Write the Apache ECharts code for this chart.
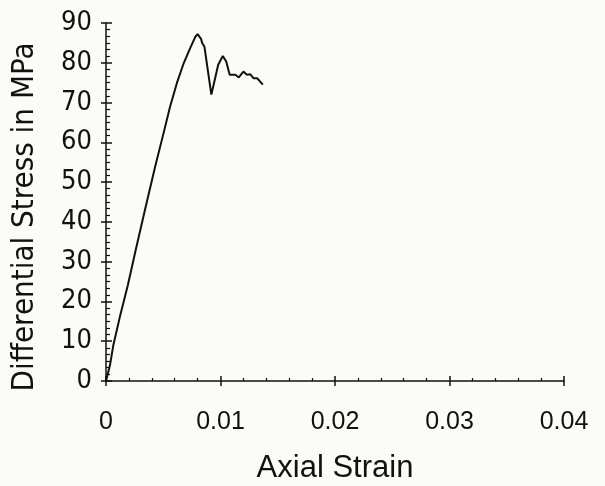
<!DOCTYPE html>
<html><head><meta charset="utf-8">
<script src="https://cdn.jsdelivr.net/npm/echarts@6/dist/echarts.min.js"></script>
<style>html,body{margin:0;padding:0;background:#fbfbf9}#c{width:605px;height:486px}</style>
</head><body><div id="c"></div>
<script>
const strain = [0, 0.00035, 0.00064, 0.0012, 0.0019, 0.0026, 0.0034, 0.0043, 0.0050, 0.0056, 0.0062, 0.0068, 0.0074, 0.0078, 0.0080, 0.0083, 0.0084, 0.0086, 0.0092, 0.0094, 0.0098, 0.0102, 0.0105, 0.0108, 0.0113, 0.0116, 0.0118, 0.0120, 0.0123, 0.0126, 0.0129, 0.0132, 0.0137];
const stress = [0, 4, 9, 16, 24, 33, 43, 54, 62, 69, 75, 80, 84, 86.5, 87.2, 86, 85, 84, 72, 74.5, 79.5, 81.7, 80.3, 77, 77, 76.3, 77.1, 77.8, 77, 77.1, 76.1, 76.1, 74.5];
const xTicks = [0, 0.01, 0.02, 0.03, 0.04];
const yTicks = [0, 10, 20, 30, 40, 50, 60, 70, 80, 90];
const xTitle = 'Axial Strain';
const yTitle = 'Differential Stress in MPa';

const chart = echarts.init(document.getElementById('c'), null, {renderer: 'canvas'});
const narrowLab = '"Liberation Sans Narrow", "DejaVu Sans Condensed", sans-serif';
const narrowTitle = '"DejaVu Sans Condensed", "Liberation Sans Narrow", sans-serif';
const lineStyle = {color: '#111', width: 1.5};
const xBase = {type: 'value', min: xTicks[0], max: xTicks[xTicks.length - 1], interval: 0.01, position: 'bottom', splitLine: {show: false}};
const yBase = {type: 'value', min: yTicks[0], max: yTicks[yTicks.length - 1], interval: 10, position: 'left', splitLine: {show: false}};
chart.setOption({
  backgroundColor: '#fbfbf9',
  animation: false,
  grid: {left: 106, right: 41, top: 23, bottom: 105, containLabel: false, outerBoundsMode: 'none'},
  graphic: [{
    type: 'text', x: 25, y: 217, rotation: Math.PI / 2,
    style: {text: yTitle, fontSize: 31, fontFamily: narrowTitle, fill: '#111', align: 'center', verticalAlign: 'middle'}
  }],
  xAxis: [
    Object.assign({}, xBase, {
      axisLine: {show: true, lineStyle: lineStyle},
      axisTick: {show: true, inside: false, length: 5, lineStyle: lineStyle},
      axisLabel: {show: true, margin: 29, fontSize: 25, color: '#111', fontFamily: '"Liberation Sans", Arial, sans-serif',
        formatter: v => (Math.abs(v) < 1e-12 ? '0' : v.toFixed(2))},
      name: xTitle, nameLocation: 'middle', nameGap: 72,
      nameTextStyle: {fontSize: 31, color: '#111', fontFamily: '"Liberation Sans", Arial, sans-serif'}
    }),
    Object.assign({}, xBase, {
      axisLine: {show: false},
      axisTick: {show: true, inside: true, length: 5, lineStyle: lineStyle},
      minorTick: {show: true, splitNumber: 5, length: 3, lineStyle: {color: '#111', width: 1.2}},
      axisLabel: {show: false}
    })
  ],
  yAxis: [
    Object.assign({}, yBase, {
      axisLine: {show: true, lineStyle: lineStyle},
      axisTick: {show: true, inside: false, length: 5, lineStyle: lineStyle},
      axisLabel: {show: true, margin: 14, fontSize: 27, color: '#111', fontFamily: narrowLab}
    }),
    Object.assign({}, yBase, {
      axisLine: {show: false},
      axisTick: {show: true, inside: true, length: 6, lineStyle: lineStyle},
      minorTick: {show: true, splitNumber: 6, length: 4, lineStyle: {color: '#111', width: 1.2}},
      axisLabel: {show: false}
    })
  ],
  series: [{
    type: 'line', xAxisIndex: 0, yAxisIndex: 0,
    data: strain.map((s, i) => [s, stress[i]]),
    showSymbol: false, smooth: false,
    lineStyle: {color: '#111', width: 2}
  }]
});
</script></body></html>
